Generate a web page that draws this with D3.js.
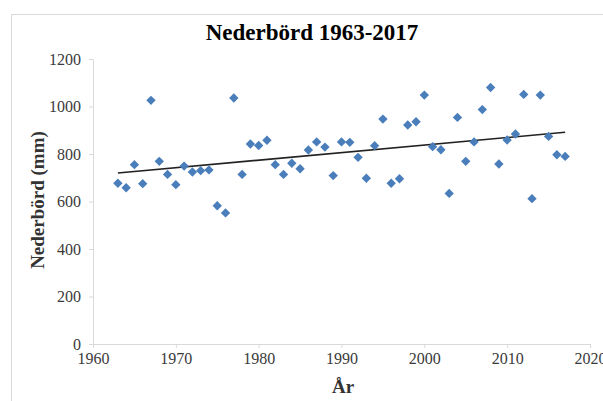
<!DOCTYPE html>
<html><head><meta charset="utf-8">
<script src="https://cdn.jsdelivr.net/npm/d3@7"></script>
<style>body{margin:0;background:#fff}svg{display:block}
.tk text{font-family:"Liberation Serif","Times New Roman",serif !important;font-size:16px;fill:#3a3a3a}</style>
</head><body>
<svg id="c" width="603" height="401"></svg>
<script>
const years = d3.range(1963, 2018);
const rain = [677,658,755,675,1026,769,714,671,749,724,730,733,582,552,1036,714,842,836,858,755,
714,761,738,817,851,829,709,851,849,786,698,835,947,677,696,922,936,1048,831,818,
634,954,769,851,987,1080,758,859,884,1051,612,1048,874,797,790];
const xTicks = [1960,1970,1980,1990,2000,2010,2020];
const yTicks = [0,200,400,600,800,1000,1200];

const svg = d3.select("#c");
const font = "Liberation Serif, Times New Roman, serif";
svg.append("rect").attr("x",11.5).attr("y",14.5).attr("width",620).attr("height",420)
  .attr("fill","none").attr("stroke","#d9d9d9");

const x = d3.scaleLinear().domain([1960,2020]).range([93,590]);
const y = d3.scaleLinear().domain([0,1200]).range([344,59]);

const gx = svg.append("g").attr("class","tk").attr("transform","translate(0,344)")
  .call(d3.axisBottom(x).tickValues(xTicks).tickFormat(d3.format("d")).tickSize(4).tickSizeOuter(0).tickPadding(5));
const gy = svg.append("g").attr("class","tk").attr("transform","translate(93,0)")
  .call(d3.axisLeft(y).tickValues(yTicks).tickFormat(d3.format("d")).tickSize(4).tickSizeOuter(0).tickPadding(8));
[gx,gy].forEach(g=>{
  g.attr("font-family",font).attr("font-size",16);
  g.selectAll("path,line").attr("stroke","#d9d9d9");
});

// trend line (least squares from data)
const n = years.length, mx = d3.mean(years), my = d3.mean(rain);
const b = d3.sum(years,(t,i)=>(t-mx)*(rain[i]-my))/d3.sum(years,t=>(t-mx)*(t-mx));
const a = my - b*mx;
svg.append("line")
  .attr("x1",x(years[0])).attr("y1",y(a+b*years[0]))
  .attr("x2",x(years[n-1])).attr("y2",y(a+b*years[n-1]))
  .attr("stroke","#222").attr("stroke-width",1.6);

svg.append("g").selectAll("path").data(years).join("path")
  .attr("d",d3.symbol(d3.symbolDiamond2 ? d3.symbolDiamond2 : d3.symbolDiamond, 56))
  .attr("transform",(d,i)=>`translate(${x(d)},${y(rain[i])})`)
  .attr("fill","#4a7ebb");

svg.append("text").attr("x",312).attr("y",40).attr("text-anchor","middle")
  .attr("font-family",font).attr("font-weight","bold").attr("font-size",23).attr("fill","#000")
  .text("Nederbörd 1963-2017");
svg.append("text").attr("x",343).attr("y",393).attr("text-anchor","middle")
  .attr("font-family",font).attr("font-weight","bold").attr("font-size",19).attr("fill","#333")
  .text("År");
svg.append("text").attr("transform","translate(44,200) rotate(-90)").attr("text-anchor","middle")
  .attr("font-family",font).attr("font-weight","bold").attr("font-size",19).attr("fill","#333")
  .text("Nederbörd (mm)");
</script>
</body></html>
